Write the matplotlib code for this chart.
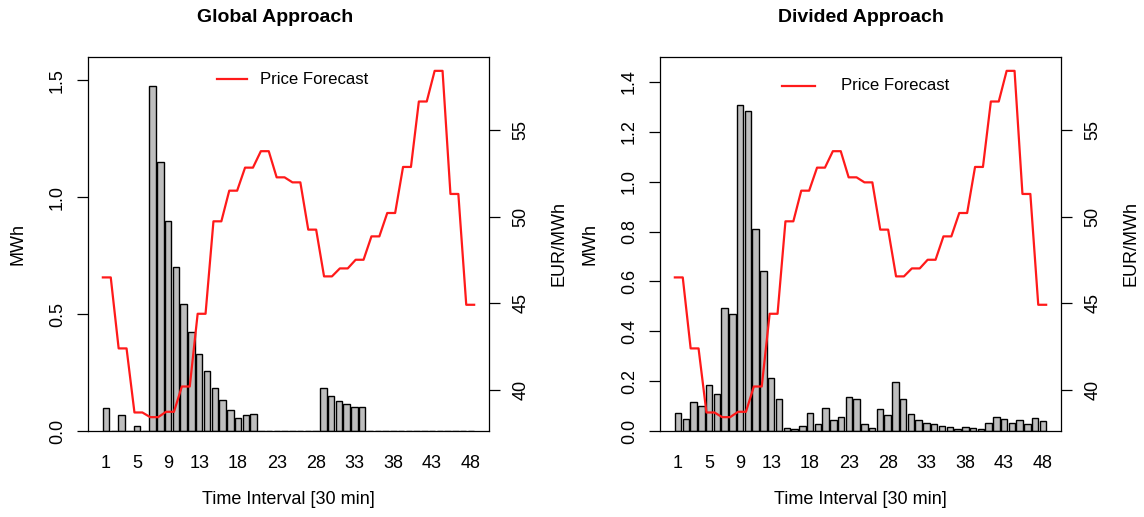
import matplotlib
matplotlib.use("Agg")
import matplotlib.pyplot as plt
import numpy as np

plt.rcParams['font.family'] = ['Liberation Sans', 'DejaVu Sans']

# ---- data ----
intervals = list(range(1, 49))
tick_intervals = [1, 5, 9, 13, 18, 23, 28, 33, 38, 43, 48]

global_mwh = [0.10, 0.0, 0.070, 0.0, 0.023, 0.0, 1.476, 1.149, 0.897, 0.700,
              0.543, 0.422, 0.328, 0.255, 0.183, 0.133, 0.090, 0.054, 0.067, 0.071,
              0.0, 0.0, 0.0, 0.0, 0.0, 0.0, 0.0, 0.0, 0.185, 0.148,
              0.130, 0.114, 0.104, 0.104, 0.0, 0.0, 0.0, 0.0, 0.0, 0.0,
              0.0, 0.0, 0.0, 0.0, 0.0, 0.0, 0.0, 0.0]

divided_mwh = [0.074, 0.049, 0.116, 0.099, 0.186, 0.147, 0.495, 0.469, 1.309, 1.282,
               0.811, 0.640, 0.211, 0.130, 0.011, 0.008, 0.020, 0.071, 0.028, 0.091,
               0.044, 0.057, 0.138, 0.127, 0.027, 0.013, 0.087, 0.063, 0.195, 0.127,
               0.067, 0.045, 0.031, 0.027, 0.019, 0.015, 0.009, 0.018, 0.011, 0.010,
               0.031, 0.055, 0.047, 0.032, 0.045, 0.029, 0.051, 0.039]

price_forecast = [46.49, 46.49, 42.39, 42.39, 38.69, 38.69, 38.42, 38.42, 38.73, 38.73,
                  40.19, 40.19, 44.39, 44.39, 49.73, 49.73, 51.50, 51.50, 52.83, 52.83,
                  53.78, 53.78, 52.27, 52.27, 51.98, 51.98, 49.25, 49.25, 46.55, 46.55,
                  47.01, 47.01, 47.51, 47.51, 48.86, 48.86, 50.21, 50.21, 52.87, 52.87,
                  56.65, 56.65, 58.42, 58.42, 51.31, 51.31, 44.91, 44.91]

panels = [
    dict(title="Global Approach", mwh=global_mwh, ylim=1.6, yticks=[0.0, 0.5, 1.0, 1.5],
         left=88, title_x=275.5, leg_line=(216.7, 246.7), leg_text=260, leg_y=79),
    dict(title="Divided Approach", mwh=divided_mwh, ylim=1.5,
         yticks=[0.0, 0.2, 0.4, 0.6, 0.8, 1.0, 1.2, 1.4],
         left=660, title_x=861, leg_line=(782, 815), leg_text=841, leg_y=86),
]

W, H = 1144, 517
fig = plt.figure(figsize=(W / 100, H / 100), dpi=100)

def fx(px):
    return px / W

def fy(py):
    return 1 - py / H

top, bottom, width = 57, 431, 401
fs = 13

for p in panels:
    rect = [fx(p['left']), fy(bottom), width / W, (bottom - top) / H]
    ax = fig.add_axes(rect)
    n = len(p['mwh'])
    centers = 0.7 + 1.2 * np.arange(n)
    ax.bar(centers, p['mwh'], width=1.0, color='#BEBEBE', edgecolor='black', linewidth=1.0)
    lo, hi = 0.2, 0.2 + 1.2 * (n - 1) + 1.0
    ext = 0.04 * (hi - lo)
    ax.set_xlim(lo - ext, hi + ext)
    ax.set_ylim(0, p['ylim'])
    ax.set_xticks(centers[np.array(tick_intervals) - 1])
    ax.set_xticklabels([str(t) for t in tick_intervals], fontsize=fs)
    ax.tick_params(axis='x', length=0, pad=17)
    ax.set_yticks(p['yticks'])
    ax.set_yticklabels([f"{v:.1f}" for v in p['yticks']], fontsize=fs)
    ax.tick_params(axis='y', length=8, width=0.9, pad=8)
    for lab in ax.get_yticklabels():
        lab.set_rotation(90)
        lab.set_va('center')
    for s in ax.spines.values():
        s.set_linewidth(0.9)

    ax2 = fig.add_axes(rect, facecolor='none')
    ax2.plot(intervals, price_forecast, color='#FF1A1A', linewidth=1.6)
    pmin, pmax = min(price_forecast), max(price_forecast)
    r = pmax - pmin
    ax2.set_ylim(pmin - 0.04 * r, pmax + 0.04 * r)
    xr = intervals[-1] - intervals[0]
    ax2.set_xlim(intervals[0] - 0.04 * xr, intervals[-1] + 0.04 * xr)
    ax2.xaxis.set_visible(False)
    ax2.yaxis.tick_right()
    ax2.set_yticks([40, 45, 50, 55])
    ax2.set_yticklabels(['40', '45', '50', '55'], fontsize=fs)
    ax2.tick_params(axis='y', length=8, width=0.9, pad=9)
    for lab in ax2.get_yticklabels():
        lab.set_rotation(90)
        lab.set_va('center')
    for s in ax2.spines.values():
        s.set_visible(False)

    # legend (manual, no frame)
    l0, l1 = p['leg_line']
    fig.add_artist(plt.Line2D([fx(l0), fx(l1)], [fy(p['leg_y'])] * 2,
                              transform=fig.transFigure, color='#FF1A1A', linewidth=1.6))
    fig.text(fx(p['leg_text']), fy(p['leg_y']), "Price Forecast", fontsize=12.1,
             ha='left', va='center')

    # titles and labels
    fig.text(fx(p['title_x']), fy(18), p['title'], fontsize=14, fontweight='bold',
             ha='center', va='center')
    cx = p['left'] + width / 2
    fig.text(fx(cx), fy(500), "Time Interval [30 min]", fontsize=fs, ha='center', va='center')
    fig.text(fx(p['left'] - 70), fy(244), "MWh", fontsize=fs, rotation=90,
             ha='center', va='center')
    fig.text(fx(p['left'] + width + 70), fy(244), "EUR/MWh", fontsize=fs, rotation=90,
             ha='center', va='center')

fig.savefig("out.png", dpi=100)
